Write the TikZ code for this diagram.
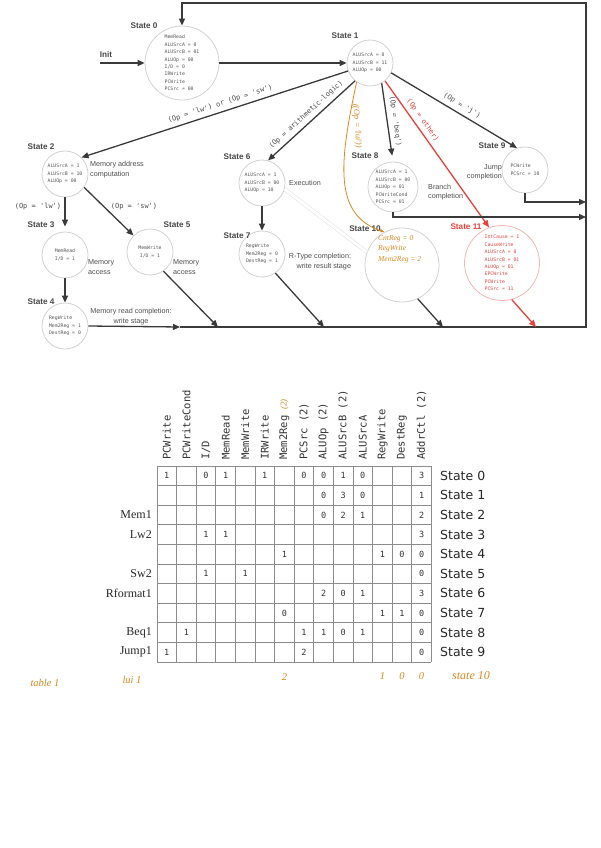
\documentclass[tikz,border=0pt]{standalone}
\usepackage{fontspec}
\setmainfont{Liberation Sans}
\setmonofont{DejaVu Sans Mono}
\newfontfamily\tabsans{DejaVu Sans}
\newfontfamily\tabserif{Liberation Serif}
\newfontfamily\handfont{Liberation Serif}
\usepackage{tikz}
\usetikzlibrary{arrows.meta}
\definecolor{linegray}{HTML}{3A3A3A}
\definecolor{circgray}{HTML}{D2D2D2}
\definecolor{textgray}{HTML}{555555}
\definecolor{fsmred}{HTML}{E8403A}
\definecolor{handorange}{HTML}{D9881F}
\definecolor{gridgray}{HTML}{8C8C8C}

\begin{document}
\begin{tikzpicture}[x=1pt,y=1pt]
\tikzstyle{every node}+=[inner sep=0pt]
\tikzstyle{state}=[circle, draw=circgray, line width=0.8pt, text=textgray, font=\ttfamily\fontsize{4.8}{7.4}\selectfont, align=left]
\tikzstyle{statename}=[text=black!72, font=\fontsize{8.2}{9}\selectfont\bfseries]
\tikzstyle{desc}=[text=black!70, font=\fontsize{7.2}{9.4}\selectfont]
\tikzstyle{cond}=[text=black!70, font=\ttfamily\fontsize{7}{8}\selectfont]
\tikzstyle{trans}=[draw=linegray, line width=1.3pt, -{Triangle[length=7pt,width=6pt]}]
\tikzstyle{hand}=[text=handorange, font=\handfont\itshape\fontsize{7.5}{10.5}\selectfont]
\tikzstyle{handbig}=[text=handorange, font=\handfont\itshape\fontsize{10.5}{12}\selectfont]
\tikzstyle{hdr}=[text=black!80, font=\ttfamily\fontsize{10.5}{12}\selectfont]
\tikzstyle{cell}=[text=black!80, font=\ttfamily\fontsize{8.5}{10}\selectfont]
\tikzstyle{rowlbl}=[text=black!85, font=\tabsans\fontsize{12.5}{14}\selectfont]
\tikzstyle{leftlbl}=[text=black!85, font=\tabserif\fontsize{12}{14}\selectfont]
\useasboundingbox (0,0) rectangle (601,-848);

\node[state, minimum size=74pt] (s0) at (182,-63) {MemRead\\ALUSrcA = 0\\ALUSrcB = 01\\ALUOp = 00\\I/D = 0\\IRWrite\\PCWrite\\PCSrc = 00};
\node[state, minimum size=46pt] (s1) at (370,-63) {ALUSrcA = 0\\ALUSrcB = 11\\ALUOp = 00};
\node[state, minimum size=46pt] (s2) at (65,-174) {ALUSrcA = 1\\ALUSrcB = 10\\ALUOp = 00};
\node[state, minimum size=46pt, align=center] (s3) at (65,-255) {MemRead\\I/D = 1};
\node[state, minimum size=46pt] (s4) at (65,-326) {RegWrite\\Mem2Reg = 1\\DestReg = 0};
\node[state, minimum size=46pt, align=center] (s5) at (150,-252) {MemWrite\\I/D = 1};
\node[state, minimum size=46pt] (s6) at (262,-183) {ALUSrcA = 1\\ALUSrcB = 00\\ALUOp = 10};
\node[state, minimum size=46pt] (s7) at (262,-254) {RegWrite\\Mem2Reg = 0\\DestReg = 1};
\node[state, minimum size=50pt] (s8) at (393,-187) {ALUSrcA = 1\\ALUSrcB = 00\\ALUOp = 01\\PCWriteCond\\PCSrc = 01};
\node[state, minimum size=46pt, font=\ttfamily\fontsize{4.8}{8}\selectfont] (s9) at (525,-170) {PCWrite\\PCSrc = 10};
\node[state, minimum size=74pt] (s10) at (402,-265) {};
\node[state, minimum size=75pt, draw=fsmred!40, text=fsmred] (s11) at (502,-263) {IntCause = 1\\CauseWrite\\ALUSrcA = 0\\ALUSrcB = 01\\ALUOp = 01\\EPCWrite\\PCWrite\\PCSrc = 11};
\node[hand, align=left, anchor=north west] (s10txt) at (378,-235) {CntReg = 0\\RegWrite\\Mem2Reg = 2};

\node[statename] (n0) at (144,-26) {State 0};
\node[statename] (n1) at (345,-36) {State 1};
\node[statename] (n2) at (41,-147) {State 2};
\node[statename] (n3) at (41,-225) {State 3};
\node[statename] (n4) at (41,-302) {State 4};
\node[statename] (n5) at (177,-225) {State 5};
\node[statename] (n6) at (237,-157) {State 6};
\node[statename] (n7) at (237,-236) {State 7};
\node[statename] (n8) at (365,-156) {State 8};
\node[statename] (n9) at (492,-146) {State 9};
\node[statename] (n10) at (365,-229) {State 10};
\node[statename, text=fsmred] (n11) at (466,-227) {State 11};
\node[statename] (init) at (106,-55) {Init};

\node[desc, align=left, anchor=west] (d2) at (90,-169.5) {Memory address\\computation};
\node[desc, align=left, anchor=west] (d3) at (88,-267) {Memory\\access};
\node[desc, align=left, anchor=west] (d5) at (173,-267) {Memory\\access};
\node[desc, align=center] (d4) at (131,-316.5) {Memory read completion:\\write stage};
\node[desc, anchor=west] (d6) at (289,-183) {Execution};
\node[desc, align=right] (d7) at (320,-261.5) {R-Type completion:\\write result stage};
\node[desc, align=left, anchor=west] (d8) at (428,-192) {Branch\\completion};
\node[desc, align=right, anchor=east] (d9) at (502,-172) {Jump\\completion};
\node[cond] (c3) at (38,-207) {(Op = 'lw')};
\node[cond] (c5) at (134,-207) {(Op = 'sw')};

\coordinate (initstart) at (100,-63);
\coordinate (btm4) at (180,-327);
\coordinate (cBR) at (586,-327);
\coordinate (cTR) at (586,-3);
\coordinate (cTL) at (182,-3);
\coordinate (b5) at (218,-327);
\coordinate (b7) at (324,-327);
\coordinate (b10) at (443,-327);
\coordinate (b11) at (536,-327);
\coordinate (r9) at (586,-202);
\coordinate (r8) at (586,-217);

\draw[trans] (initstart) -- (s0.west);
\draw[trans] (s0.east) -- (s1.west);
\draw[trans] (s4.east) -- (btm4);
\draw[trans] (btm4) -- (cBR) -- (cTR) -- (cTL) -- (s0.north);
\draw[trans] (s1.200) -- (s2.45) node[cond, pos=0.47, sloped, above=4pt] {(Op = 'lw') or (Op = 'sw')};
\draw[trans] (s1.230) -- (s6.75) node[cond, midway, sloped, above=4pt] {(Op = arithmetic-logic)};
\draw[trans, shorten >=6pt] (s1.-60) -- (s8.north) node[cond, midway, sloped, above=4pt] {(Op = 'beq')};
\draw[trans, draw=fsmred] (s1.-50) -- (s11.110) node[cond, text=fsmred, pos=0.3, sloped, above=4pt] {(Op = other)};
\draw[trans] (s1.-25) -- (s9.110) node[cond, pos=0.53, sloped, above=4pt] {(Op = 'j')};
\draw[trans, shorten >=5pt] (s2) -- (s3);
\draw[trans] (s2.-35) -- (s5.135);
\draw[trans] (s3) -- (s4);
\draw[trans] (s6) -- (s7);
\draw[trans] (s5.-55) -- (b5);
\draw[trans] (s7.-55) -- (b7);
\draw[trans] (s10.-65) -- (b10);
\draw[trans, draw=fsmred] (s11.-75) -- (b11);
\draw[trans] (s9.south) |- (r9);
\draw[trans] (s8.south) |- (r8);
\draw[gray!30, line width=0.4pt, double=white, double distance=3pt] (s6.-15) -- (s10.160);
\draw[handorange, line width=0.8pt, -{Stealth[length=5pt]}] (s1.235) .. controls (340,-160) and (332,-215) .. (s10.118);
\node[hand, font=\handfont\itshape\fontsize{8.5}{10}\selectfont, rotate=-86] (lui) at (357,-126) {((Op = 'lui'))};

\foreach \i in {0,...,14}
  \draw[gridgray, line width=0.8pt] (157+19.6*\i,-466) -- (157+19.6*\i,-662);
\foreach \j in {0,...,10}
  \draw[gridgray, line width=0.8pt] (157,-466-19.6*\j) -- (431.4,-466-19.6*\j);
\foreach \h [count=\c] in {PCWrite,PCWriteCond,I/D,MemRead,MemWrite,IRWrite,Mem2Reg,PCSrc (2),ALUOp (2),ALUSrcB (2),ALUSrcA,RegWrite,DestReg,AddrCtl (2)}
  \node[hdr, rotate=90, anchor=west] (h\c) at (157+19.6*\c-9.8,-460) {\h};
\node[hand, font=\handfont\itshape\fontsize{9}{10}\selectfont, rotate=90, anchor=west] (h7b) at (284.4,-410) {(2)};
\foreach \c/\r/\v in {1/0/1,3/0/0,4/0/1,6/0/1,8/0/0,9/0/0,10/0/1,11/0/0,14/0/3,
  9/1/0,10/1/3,11/1/0,14/1/1,
  9/2/0,10/2/2,11/2/1,14/2/2,
  3/3/1,4/3/1,14/3/3,
  7/4/1,12/4/1,13/4/0,14/4/0,
  3/5/1,5/5/1,14/5/0,
  9/6/2,10/6/0,11/6/1,14/6/3,
  7/7/0,12/7/1,13/7/1,14/7/0,
  2/8/1,8/8/1,9/8/1,10/8/0,11/8/1,14/8/0,
  1/9/1,8/9/2,14/9/0}
  \node[cell] (v\c-\r) at (157+19.6*\c-9.8,-466-19.6*\r-9.8) {\v};
\foreach \r in {0,...,9}
  \node[rowlbl, anchor=west] (st\r) at (440,-466-19.6*\r-9.8) {State \r};
\foreach \r/\t in {2/Mem1,3/Lw2,5/Sw2,6/Rformat1,8/Beq1,9/Jump1}
  \node[leftlbl, anchor=east] (ll\r) at (152,-466-19.6*\r-9.8) {\t};

\node[handbig] (tbl1) at (45,-683) {table 1};
\node[handbig] (lui1) at (132,-680) {lui 1};
\node[handbig] (hv7) at (284.4,-677) {2};
\node[handbig] (hv12) at (382.4,-676) {1};
\node[handbig] (hv13) at (402,-676) {0};
\node[handbig] (hv14) at (421.6,-676) {0};
\node[handbig, font=\handfont\itshape\fontsize{12}{13}\selectfont] (st10) at (471,-676) {state 10};
\end{tikzpicture}
\end{document}
